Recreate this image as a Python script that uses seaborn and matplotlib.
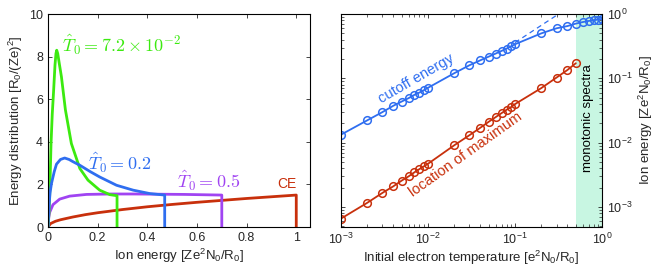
import numpy as np
import pandas as pd
import matplotlib
matplotlib.use("Agg")
import matplotlib.pyplot as plt
import seaborn as sns

# ---------------- data ----------------
# left panel: energy distributions (x = ion energy, y = distribution)
green_x = [0, 0.004, 0.007, 0.012, 0.017, 0.022, 0.028, 0.032, 0.035, 0.039, 0.045,
           0.054, 0.07, 0.094, 0.128, 0.161, 0.208, 0.249, 0.278, 0.278]
green_y = [0, 0.7, 1.6, 3.9, 5.3, 6.3, 7.6, 8.15, 8.3, 8.15, 7.7,
           7.05, 5.5, 3.92, 2.75, 2.2, 1.73, 1.52, 1.47, 0]

blue_x = [0, 0.003, 0.008, 0.014, 0.025, 0.034, 0.05, 0.067, 0.085, 0.1,
          0.128, 0.17, 0.208, 0.276, 0.343, 0.41, 0.47, 0.47]
blue_y = [0, 0.8, 1.6, 2.05, 2.6, 2.95, 3.17, 3.24, 3.17, 3.07,
          2.9, 2.6, 2.35, 1.96, 1.73, 1.57, 1.5, 0]

purple_x = [0, 0.003, 0.007, 0.02, 0.047, 0.087, 0.155, 0.25, 0.35, 0.45,
            0.55, 0.65, 0.7, 0.7]
purple_y = [0, 0.45, 0.7, 1.05, 1.31, 1.45, 1.53, 1.55, 1.55, 1.54,
            1.53, 1.51, 1.5, 0]

ce_x = [0, 0.01, 0.03, 0.05, 0.1, 0.15, 0.2, 0.3, 0.4, 0.5, 0.6, 0.7, 0.8, 0.9, 1.0, 1.0]
ce_y = [0, 0.16, 0.27, 0.34, 0.47, 0.58, 0.67, 0.82, 0.95, 1.06, 1.16, 1.25, 1.34, 1.42, 1.5, 0]

# right panel: cutoff energy and location of maximum vs temperature
temp_cut = [0.001, 0.002, 0.003, 0.004, 0.005, 0.006, 0.007, 0.008, 0.009, 0.01,
            0.02, 0.03, 0.04, 0.05, 0.06, 0.07, 0.08, 0.09, 0.1,
            0.2, 0.3, 0.4, 0.5, 0.6, 0.7, 0.8, 0.9, 1.0]
cutoff = [0.0133, 0.0222, 0.0299, 0.0375, 0.0437, 0.0493, 0.0555, 0.0603, 0.0656, 0.0713,
          0.120, 0.160, 0.191, 0.218, 0.243, 0.267, 0.290, 0.315, 0.339,
          0.50, 0.60, 0.65, 0.71, 0.75, 0.78, 0.80, 0.82, 0.84]

temp_max = temp_cut[:23]
maximum = [6.6e-4, 1.16e-3, 1.66e-3, 2.1e-3, 2.58e-3, 3.0e-3, 3.47e-3, 3.9e-3, 4.3e-3, 4.7e-3,
           9.1e-3, 0.0131, 0.0171, 0.0212, 0.025, 0.0288, 0.0325, 0.0357, 0.0398,
           0.0705, 0.103, 0.135, 0.172]

dash_t = [0.1, 0.36]
dash_e = [0.36, 1.12]

xticks_left = [0, 0.2, 0.4, 0.6, 0.8, 1]
xticklabels_left = ['0', '0.2', '0.4', '0.6', '0.8', '1']
yticks_left = [0, 2, 4, 6, 8, 10]

GREEN = '#3cea10'
BLUE = '#2f6ef0'
PURPLE = '#a044f2'
RED = '#c8300c'
MINT = '#c8f6e2'

# ---------------- style ----------------
sns.set_style('ticks')
plt.rcParams['font.family'] = ['Liberation Sans', 'DejaVu Sans']
plt.rcParams['xtick.direction'] = 'in'
plt.rcParams['ytick.direction'] = 'in'
plt.rcParams['axes.linewidth'] = 0.8
plt.rcParams['axes.edgecolor'] = 'black'

fig = plt.figure(figsize=(6.58, 2.75), dpi=100)
ax1 = fig.add_axes([0.073, 0.1745, 0.398, 0.7745])
ax2 = fig.add_axes([0.518, 0.1745, 0.397, 0.7745])

# ---------------- left panel ----------------
for xs, ys, c in [(ce_x, ce_y, RED), (purple_x, purple_y, PURPLE),
                  (green_x, green_y, GREEN), (blue_x, blue_y, BLUE)]:
    df = pd.DataFrame({'x': xs, 'y': ys})
    sns.lineplot(data=df, x='x', y='y', sort=False, estimator=None,
                 color=c, lw=2.0, ax=ax1)

ax1.set_xlim(0, 1.055)
ax1.set_ylim(0, 10)
ax1.set_xticks(xticks_left, xticklabels_left)
ax1.set_yticks(yticks_left)
ax1.tick_params(top=True, right=True, labelsize=9, length=3, width=0.6)
ax1.set_xlabel('Ion energy [$\\mathregular{Ze^2N_0/R_0}$]', fontsize=9.5, labelpad=2)
ax1.set_ylabel('Energy distribution [$\\mathregular{R_0/(Ze)^2}$]', fontsize=9.5, labelpad=3)

ax1.text(0.057, 8.55, r'$\hat{T}_0 = 7.2\times10^{-2}$', color=GREEN,
         fontsize=13, ha='left', va='center', math_fontfamily='cm')
ax1.text(0.16, 3.0, r'$\hat{T}_0 = 0.2$', color=BLUE,
         fontsize=13, ha='left', va='center', math_fontfamily='cm')
ax1.text(0.52, 2.15, r'$\hat{T}_0 = 0.5$', color=PURPLE,
         fontsize=13, ha='left', va='center', math_fontfamily='cm')
ax1.text(1.0, 2.0, 'CE', color=RED, fontsize=10, ha='right', va='center')

# ---------------- right panel ----------------
ax2.axvspan(0.5, 1.0, color=MINT, lw=0, zorder=0)
sns.lineplot(x=dash_t, y=dash_e, color=BLUE, lw=0.9, ls=(0, (4, 3)), ax=ax2)
sns.lineplot(x=temp_cut, y=cutoff, color=BLUE, lw=1.3, marker='o', ms=5.5,
             mfc='none', mec=BLUE, mew=1.1, ax=ax2)
sns.lineplot(x=temp_max, y=maximum, color=RED, lw=1.3, marker='o', ms=5.5,
             mfc='none', mec=RED, mew=1.1, ax=ax2)

ax2.set_xscale('log')
ax2.set_yscale('log')
ax2.set_xlim(1e-3, 1)
ax2.set_ylim(4.9e-4, 1)
ax2.yaxis.tick_right()
ax2.yaxis.set_label_position('right')
ax2.tick_params(which='both', top=True, left=True, right=True, labelsize=9)
ax2.tick_params(which='major', length=3, width=0.6)
ax2.tick_params(which='minor', length=2, width=0.5)
ax2.set_xlabel('Initial electron temperature [$\\mathregular{e^2N_0/R_0}$]',
               fontsize=9.5, labelpad=1)
ax2.set_ylabel('Ion energy [$\\mathregular{Ze^2N_0/R_0}$]', fontsize=9.5, labelpad=3)

ax2.text(0.0073, 0.10, 'cutoff energy', color=BLUE, fontsize=10.5,
         rotation=30, ha='center', va='center')
ax2.text(0.0274, 0.0065, 'location of maximum', color=RED, fontsize=10.5,
         rotation=35.5, ha='center', va='center')
ax2.text(0.69, 0.024, 'monotonic spectra', color='black', fontsize=9.5,
         rotation=90, ha='center', va='center')

fig.savefig('out.png', dpi=100)
